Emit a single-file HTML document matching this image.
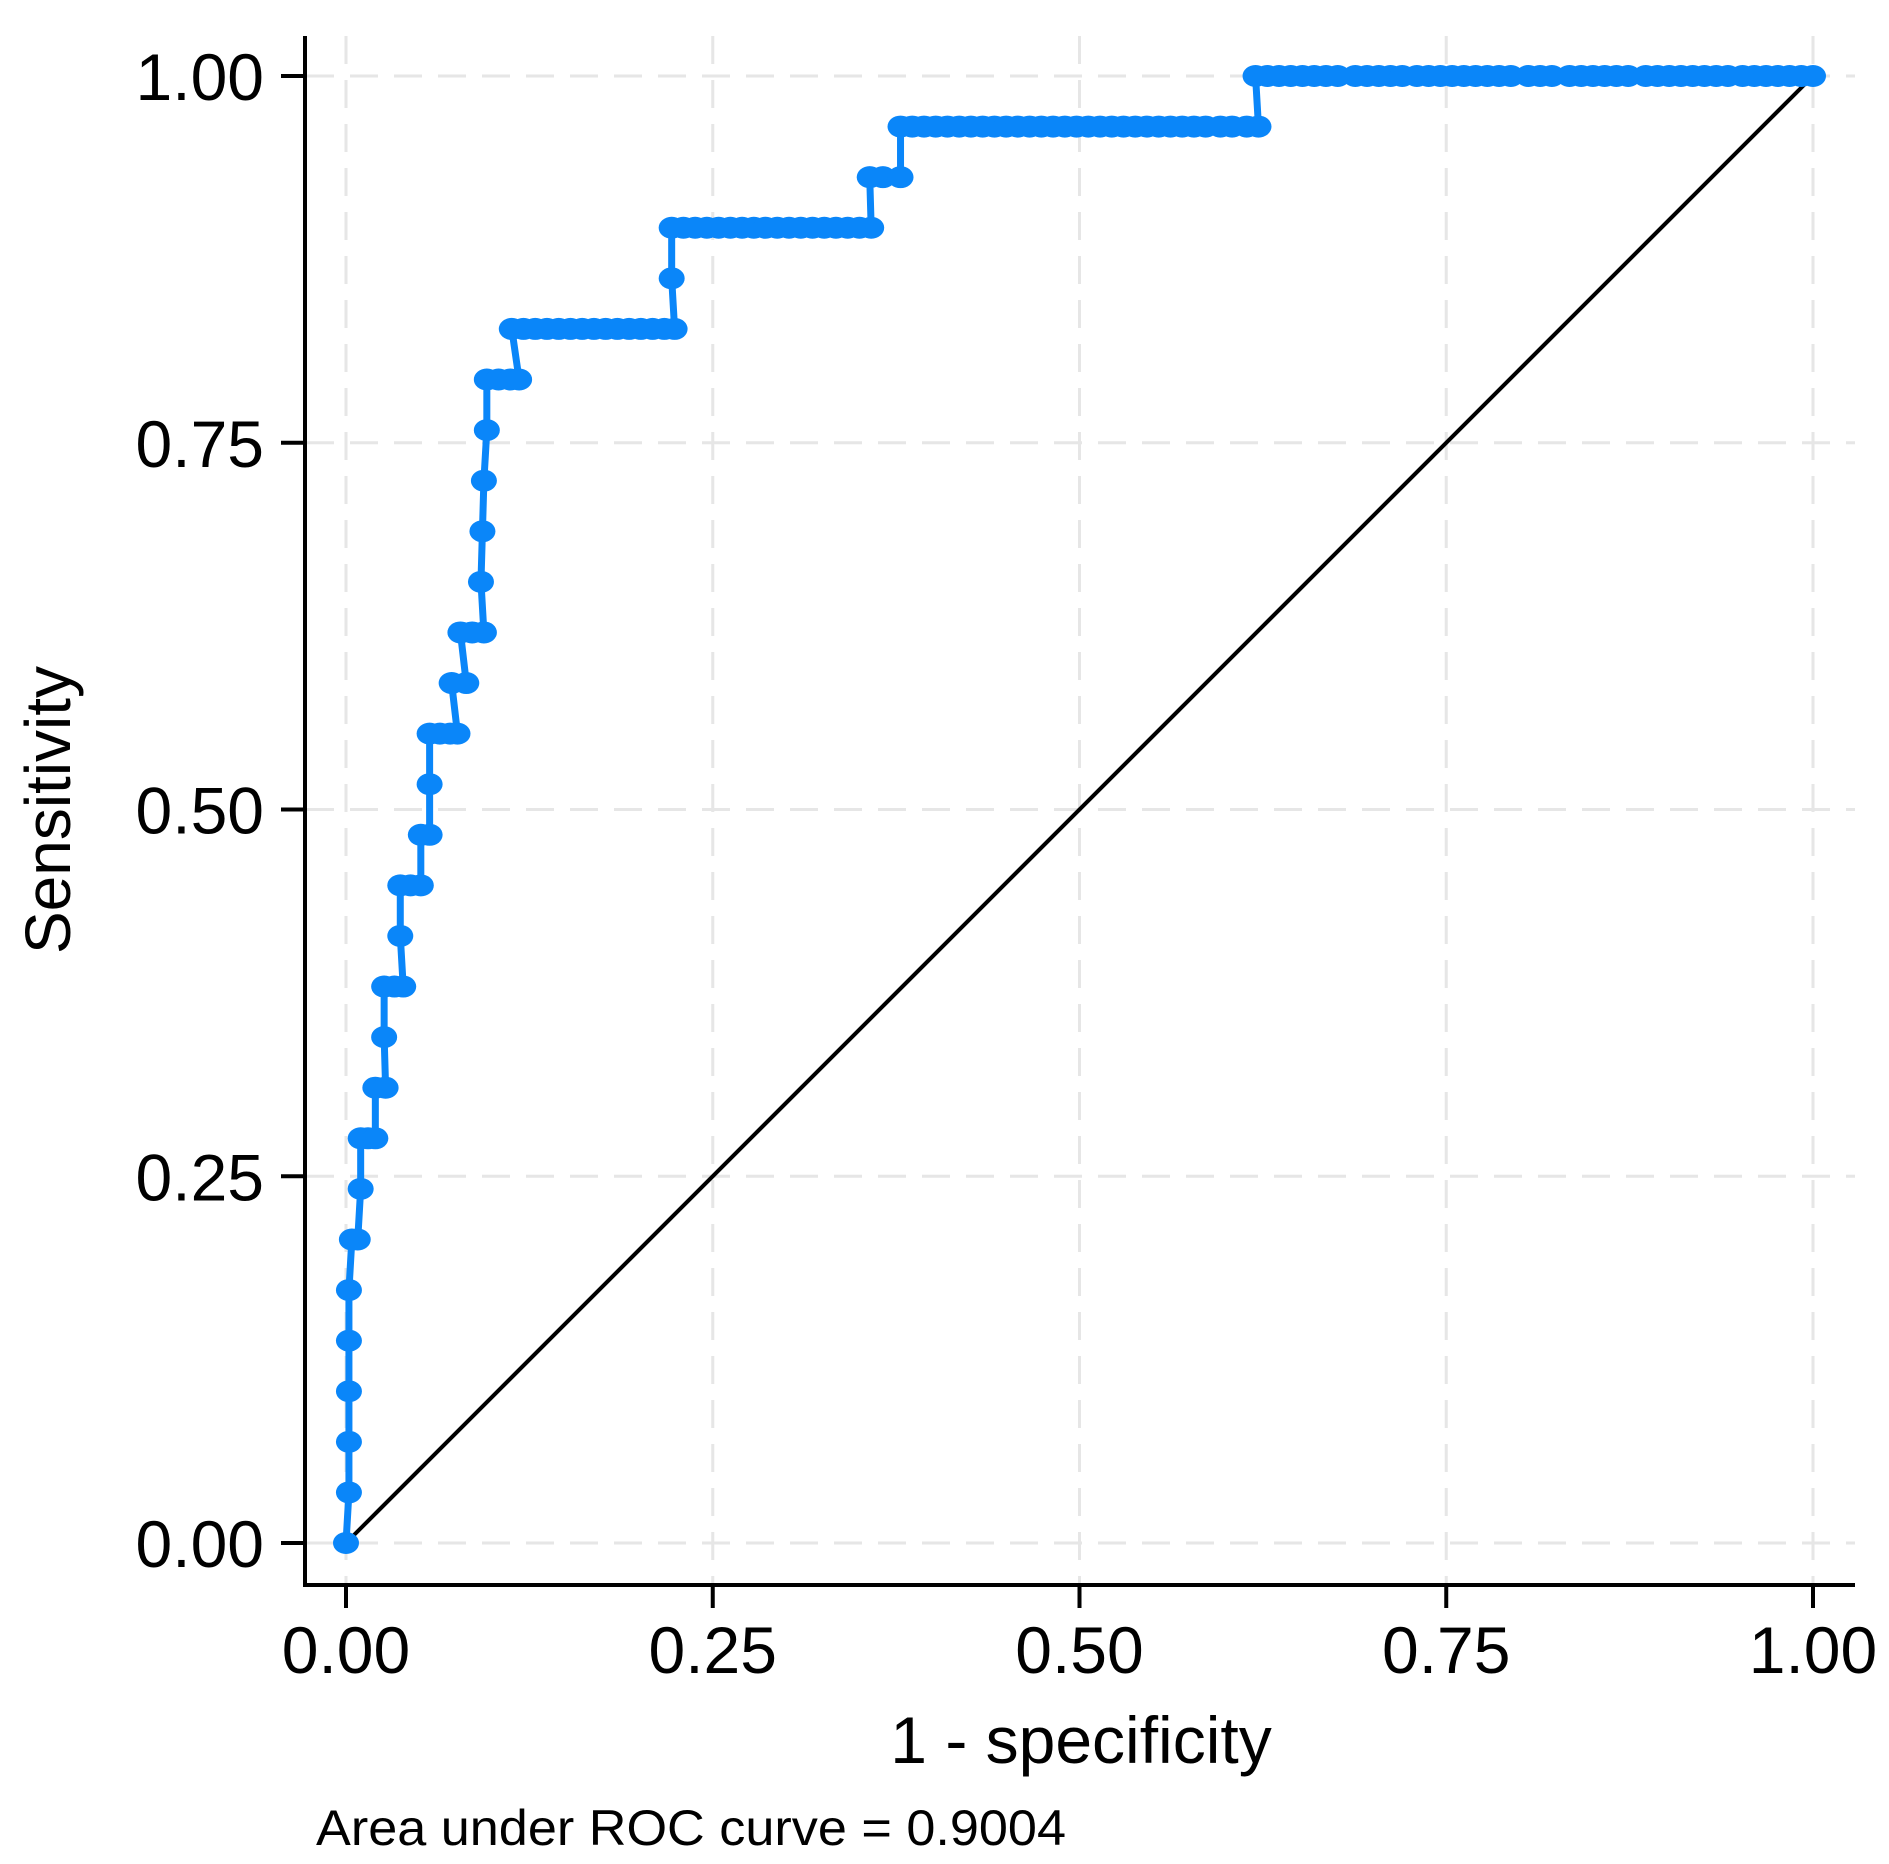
<!DOCTYPE html>
<html><head><meta charset="utf-8"><style>
html,body{margin:0;padding:0;background:#fff;}
svg{display:block;font-family:"Liberation Sans",Arial,sans-serif;}
</style></head><body>
<svg id="chart" width="1889" height="1864" viewBox="0 0 1889 1864" xmlns="http://www.w3.org/2000/svg">
<g id="grid"></g>
<g id="axes">
<line x1="305" y1="36" x2="305" y2="1587" stroke="#000" stroke-width="4"/>
<line x1="303" y1="1585" x2="1855" y2="1585" stroke="#000" stroke-width="4"/>
</g>
<g id="ticks"></g>
<line id="diag" stroke="#000" stroke-width="4"/>
<g id="series"></g>
<text x="1081" y="1763" font-size="66" text-anchor="middle" fill="#000">1 - specificity</text>
<text transform="translate(70,810) rotate(-90)" font-size="64" text-anchor="middle" fill="#000">Sensitivity</text>
<text x="316" y="1845" font-size="50" textLength="750" lengthAdjust="spacingAndGlyphs" fill="#000">Area under ROC curve = 0.9004</text>
</svg>
<script>
const ticks = [0, 0.25, 0.5, 0.75, 1];
const tickLabels = ["0.00", "0.25", "0.50", "0.75", "1.00"];
const totalPositives = 29;
const fpr = [0,
0.002,0.002,0.002,0.002,0.002,
0.004,0.008,
0.010,
0.010,0.015,0.020,
0.020,0.027,
0.026,
0.026,0.033,0.039,
0.037,
0.037,0.044,0.051,
0.051,0.057,
0.057,
0.057,0.064,0.071,0.076,
0.072,0.082,
0.078,0.086,0.094,
0.092,
0.093,
0.094,
0.096,
0.096,0.104,0.112,0.118,
0.113,0.121,0.129,0.137,0.145,0.153,0.161,0.169,0.177,0.185,0.193,0.201,0.209,0.217,0.224,
0.222,
0.222,0.230,0.238,0.246,0.254,0.262,0.270,0.278,0.286,0.294,0.302,0.310,0.318,0.326,0.334,0.342,0.350,0.358,
0.357,0.366,0.378,
0.378,0.386,0.394,0.402,0.410,0.418,0.426,0.434,0.442,0.450,0.458,0.466,0.474,0.482,0.490,0.498,0.506,0.514,0.522,0.530,0.538,0.546,0.554,0.562,0.570,0.578,0.586,0.596,0.604,0.614,0.622,
0.620,0.628,0.636,0.644,0.652,0.660,0.668,0.676,0.688,0.696,0.704,0.712,0.720,0.730,0.738,0.746,0.754,0.762,0.770,0.778,0.786,0.794,0.806,0.814,0.822,0.834,0.842,0.850,0.858,0.866,0.874,0.886,0.894,0.902,0.910,0.918,0.926,0.934,0.942,0.952,0.960,0.968,0.976,0.984,0.992,1.0];
const hits = [0,
1,2,3,4,5,
6,6,
7,
8,8,8,
9,9,
10,
11,11,11,
12,
13,13,13,
14,14,
15,
16,16,16,16,
17,17,
18,18,18,
19,
20,
21,
22,
23,23,23,23,
24,24,24,24,24,24,24,24,24,24,24,24,24,24,24,
25,
26,26,26,26,26,26,26,26,26,26,26,26,26,26,26,26,26,26,
27,27,27,
28,28,28,28,28,28,28,28,28,28,28,28,28,28,28,28,28,28,28,28,28,28,28,28,28,28,28,28,28,28,28,
29,29,29,29,29,29,29,29,29,29,29,29,29,29,29,29,29,29,29,29,29,29,29,29,29,29,29,29,29,29,29,29,29,29,29,29,29,29,29,29,29,29,29,29,29,29];

const NS = "http://www.w3.org/2000/svg";
const X0 = 346, X1 = 1813, Y0 = 1543, Y1 = 76;
const sx = v => X0 + v * (X1 - X0);
const sy = v => Y0 - v * (Y0 - Y1);
function mk(tag, attrs, parent) {
  const e = document.createElementNS(NS, tag);
  for (const k in attrs) e.setAttribute(k, attrs[k]);
  parent.appendChild(e);
  return e;
}
const grid = document.getElementById('grid');
const tickG = document.getElementById('ticks');
ticks.forEach((t, i) => {
  const gv = mk('line', {x1: sx(t), x2: sx(t), y1: 36, y2: 1584, stroke: '#e6e6e6', 'stroke-width': 3, 'stroke-dasharray': '28 16'}, grid);
  
  
  const gh = mk('line', {x1: 306, x2: 1855, y1: sy(t), y2: sy(t), stroke: '#e6e6e6', 'stroke-width': 3, 'stroke-dasharray': '28 16'}, grid);
  
  
  const tx = mk('line', {x1: sx(t), x2: sx(t), y1: 1585, y2: 1608, stroke: '#000', 'stroke-width': 4}, tickG);
  
  
  const ty = mk('line', {x1: 281, x2: 305, y1: sy(t), y2: sy(t), stroke: '#000', 'stroke-width': 4}, tickG);
  
  
  const lx = mk('text', {x: sx(t), y: 1673, 'font-size': 66, 'text-anchor': 'middle', fill: '#000'}, tickG);
  lx.textContent = tickLabels[i];
  
  
  const ly = mk('text', {x: 264, y: sy(t) + 24, 'font-size': 66, 'text-anchor': 'end', fill: '#000'}, tickG);
  ly.textContent = tickLabels[i];
  
  
});
const diag = document.getElementById('diag');
diag.setAttribute('x1', sx(0)); diag.setAttribute('y1', sy(0));
diag.setAttribute('x2', sx(1)); diag.setAttribute('y2', sy(1));
const series = document.getElementById('series');
const col = '#0a86f9';
const pts = fpr.map((f, i) => sx(f) + ',' + sy(hits[i] / totalPositives)).join(' ');
const pl = mk('polyline', {points: pts, fill: 'none', stroke: col, 'stroke-width': 7, 'stroke-linejoin': 'round'}, series);


fpr.forEach((f, i) => {
  const d = mk('ellipse', {cx: sx(f), cy: sy(hits[i] / totalPositives), rx: 13, ry: 11, fill: col}, series);
  
  
});
</script>
</body></html>
